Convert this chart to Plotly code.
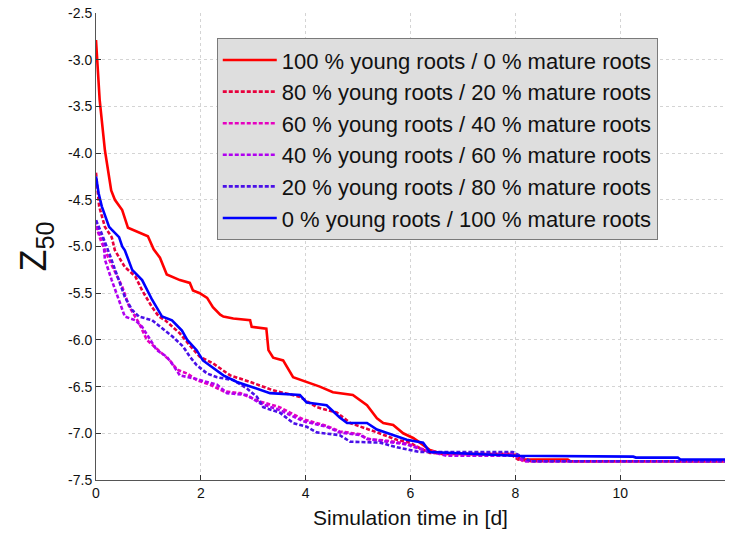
import plotly.graph_objects as go

labels = [
    "100 % young roots / 0 % mature roots",
    "80 % young roots / 20 % mature roots",
    "60 % young roots / 40 % mature roots",
    "40 % young roots / 60 % mature roots",
    "20 % young roots / 80 % mature roots",
    "0 % young roots / 100 % mature roots",
]

x_100 = [0, 0.03, 0.07, 0.17, 0.29, 0.36, 0.5, 0.61, 0.78, 0.99, 1.1, 1.22, 1.35, 1.6, 1.79, 1.85, 1.98,
         2.12, 2.23, 2.37, 2.43, 2.62, 2.94, 2.97, 3.25, 3.29, 3.38, 3.57, 3.76, 4.02, 4.27, 4.52, 4.9,
         5.17, 5.36, 5.48, 5.67, 5.86, 6.05, 6.18, 6.37, 6.6, 7.0, 8.0, 8.1, 9.0, 9.05, 12]
y_100 = [-2.79, -3.1, -3.43, -3.97, -4.4, -4.5, -4.61, -4.8, -4.84, -4.89, -5.03, -5.12, -5.3, -5.36, -5.39,
         -5.47, -5.5, -5.55, -5.65, -5.73, -5.75, -5.77, -5.79, -5.86, -5.88, -6.11, -6.19, -6.22, -6.4,
         -6.45, -6.5, -6.56, -6.59, -6.7, -6.84, -6.89, -6.91, -7.0, -7.05, -7.1, -7.18, -7.22, -7.22,
         -7.23, -7.28, -7.28, -7.3, -7.3]

x_80 = [0, 0.06, 0.17, 0.3, 0.36, 0.55, 0.75, 0.88, 1.07, 1.2, 1.32, 1.6, 1.79, 1.98, 2.23, 2.56, 2.94,
        3.38, 3.89, 4.21, 4.6, 4.85, 5.36, 5.74, 5.99, 6.18, 6.37, 7.0, 7.9, 8.05, 8.3, 12]
y_80 = [-4.21, -4.57, -4.79, -4.9, -5.04, -5.22, -5.32, -5.47, -5.65, -5.75, -5.79, -5.93, -6.06, -6.18,
        -6.25, -6.38, -6.45, -6.54, -6.61, -6.72, -6.78, -6.89, -6.99, -7.07, -7.1, -7.16, -7.21, -7.22,
        -7.22, -7.28, -7.3, -7.3]

x_60 = [0, 0.1, 0.3, 0.5, 0.63, 0.82, 0.97, 1.22, 1.41, 1.55, 1.74, 1.92, 2.18, 2.43, 2.75, 3.13, 3.5,
        3.95, 4.4, 4.65, 5.04, 5.17, 5.55, 5.93, 6.24, 6.56, 6.8, 7.95, 8.15, 12]
y_60 = [-4.78, -4.95, -5.2, -5.43, -5.64, -5.82, -6.0, -6.13, -6.22, -6.32, -6.36, -6.43, -6.48, -6.55,
        -6.57, -6.66, -6.72, -6.85, -6.92, -6.98, -7.01, -7.06, -7.08, -7.11, -7.17, -7.21, -7.22, -7.22,
        -7.3, -7.3]

x_40 = [0, 0.05, 0.14, 0.17, 0.3, 0.44, 0.55, 0.75, 0.88, 1.16, 1.35, 1.47, 1.6, 1.85, 2.12, 2.31, 2.5,
        2.88, 3.13, 3.5, 3.95, 4.4, 4.65, 5.04, 5.17, 5.55, 5.93, 6.24, 6.56, 6.69, 8.0, 8.2, 12]
y_40 = [-4.72, -4.85, -4.93, -5.14, -5.36, -5.57, -5.75, -5.79, -5.86, -6.11, -6.18, -6.27, -6.38, -6.41,
        -6.45, -6.48, -6.57, -6.59, -6.68, -6.75, -6.87, -6.93, -6.99, -7.02, -7.06, -7.09, -7.12, -7.18,
        -7.22, -7.24, -7.24, -7.3, -7.3]

x_20 = [0, 0.1, 0.25, 0.44, 0.55, 0.69, 0.82, 1.07, 1.28, 1.47, 1.66, 1.79, 1.92, 2.12, 2.31, 2.62, 2.88,
        3.07, 3.19, 3.51, 3.76, 4.02, 4.21, 4.65, 4.85, 5.42, 5.74, 6.05, 6.18, 7.95, 8.3, 12]
y_20 = [-4.72, -4.85, -5.07, -5.36, -5.54, -5.68, -5.75, -5.79, -5.88, -5.97, -6.07, -6.18, -6.27, -6.36,
        -6.4, -6.43, -6.52, -6.61, -6.72, -6.78, -6.89, -6.93, -6.99, -7.02, -7.09, -7.1, -7.15, -7.18,
        -7.2, -7.2, -7.3, -7.3]

x_0 = [0, 0.05, 0.11, 0.25, 0.3, 0.44, 0.5, 0.55, 0.69, 0.88, 1.07, 1.26, 1.45, 1.64, 1.74, 1.92, 2.04,
       2.23, 2.43, 2.69, 3.07, 3.32, 3.89, 4.02, 4.4, 4.65, 4.79, 5.17, 5.36, 5.67, 5.93, 6.24, 6.37, 8.0,
       10.25, 10.3, 11.1, 11.15, 12]
y_0 = [-4.25, -4.43, -4.57, -4.79, -4.82, -4.9, -5.0, -5.04, -5.25, -5.36, -5.57, -5.75, -5.79, -5.9,
       -6.0, -6.11, -6.22, -6.3, -6.38, -6.45, -6.52, -6.57, -6.59, -6.67, -6.7, -6.83, -6.89, -6.89,
       -6.96, -7.02, -7.07, -7.1, -7.2, -7.24, -7.25, -7.26, -7.26, -7.28, -7.28]

series_x = [x_100, x_80, x_60, x_40, x_20, x_0]
series_y = [y_100, y_80, y_60, y_40, y_20, y_0]
colors = ["#ff0000", "#e8003c", "#e600c0", "#b000f0", "#4a10e8", "#0000ff"]
dashes = ["solid", "4px,2px", "4px,2px", "4px,2px", "4px,2px", "solid"]

x_ticks = [0, 2, 4, 6, 8, 10, 12]
y_ticks = [-7.5, -7.0, -6.5, -6.0, -5.5, -5.0, -4.5, -4.0, -3.5, -3.0, -2.5]
y_ticktext = ["%.1f" % v for v in y_ticks]

fig = go.Figure()
for xs, ys, lab, c, d in zip(series_x, series_y, labels, colors, dashes):
    fig.add_trace(go.Scatter(x=xs, y=ys, mode="lines", name=lab,
                             line=dict(color=c, width=2.6, dash=d)))

font_family = "Liberation Sans, Arial, sans-serif"
fig.update_layout(
    width=730, height=533,
    margin=dict(l=96, r=5, t=13, b=53),
    paper_bgcolor="white", plot_bgcolor="white",
    font=dict(family=font_family, color="#111111"),
    showlegend=True,
    legend=dict(
        x=0.192, y=0.946, xanchor="left", yanchor="top",
        bgcolor="#dedede", bordercolor="#7a7a7a", borderwidth=1,
        font=dict(size=22, family=font_family, color="#111111"),
        itemwidth=54, tracegroupgap=0,
    ),
    xaxis=dict(
        range=[0, 12], tickvals=x_ticks, ticks="inside", ticklen=5,
        tickcolor="#333333", showline=True, linecolor="#555555", linewidth=1,
        showgrid=True, gridcolor="#d4d4d4", griddash="dot", gridwidth=1,
        zeroline=False, tickfont=dict(size=14, family=font_family),
        title=dict(text="Simulation time in [d]", font=dict(size=21, family=font_family), standoff=10),
    ),
    yaxis=dict(
        range=[-7.5, -2.5], tickvals=y_ticks, ticktext=y_ticktext, ticks="inside", ticklen=5,
        tickcolor="#333333", showline=True, linecolor="#555555", linewidth=1,
        showgrid=True, gridcolor="#d4d4d4", griddash="dot", gridwidth=1,
        zeroline=False, tickfont=dict(size=14, family=font_family),
        title=dict(text="Z<sub>50</sub>", font=dict(size=36, family=font_family), standoff=10),
    ),
)

fig.write_html("out.html")
